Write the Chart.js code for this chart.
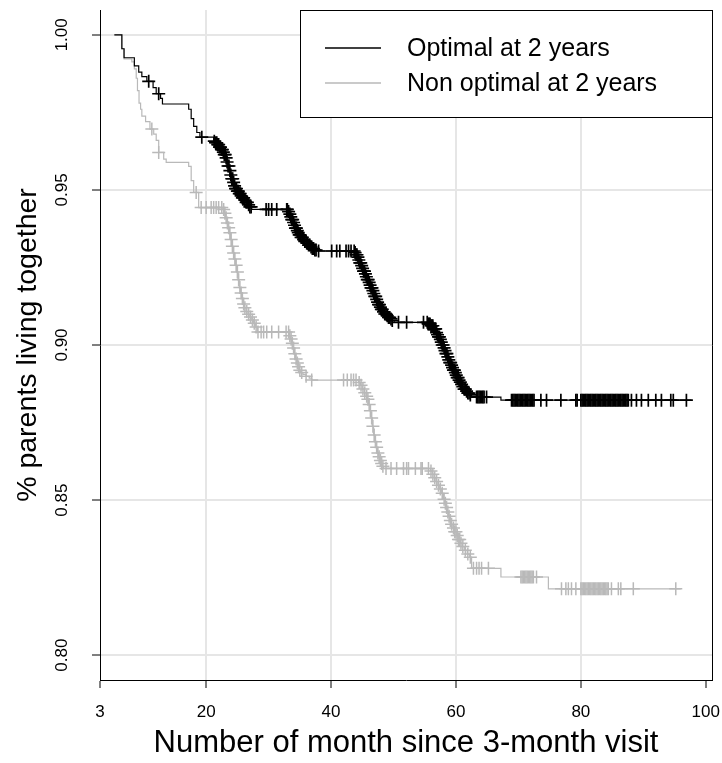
<!DOCTYPE html>
<html>
<head>
<meta charset="utf-8">
<script src="https://cdn.jsdelivr.net/npm/chart.js@4.4.1/dist/chart.umd.min.js"></script>
<style>
  html, body { margin: 0; padding: 0; background: #fff; }
  canvas { display: block; }
</style>
</head>
<body>
<canvas id="kmChart" width="722" height="763"></canvas>
<script>
// axis ticks
const xTicks = [3, 20, 40, 60, 80, 100];
const yTicks = [0.80, 0.85, 0.90, 0.95, 1.00];

// Optimal at 2 years: step times and survival after each step
const optTime = [5.3, 6.5, 6.85, 8.5, 9.2, 9.7, 10.5, 11.5, 12.0, 12.7, 13.0, 17.2, 17.6, 18.0, 18.5, 19.0, 21.2,
  21.5, 21.8, 22.1, 22.4, 22.7, 22.9, 23.1, 23.3, 23.5, 23.7, 23.9, 24.1, 24.3, 24.5, 24.7, 24.9, 25.2, 25.5, 25.8, 26.1, 26.4, 26.7, 27.0, 27.3,
  33.1, 33.3, 33.5, 33.7, 33.9, 34.1, 34.3, 34.5, 34.7, 34.9, 35.2, 35.5, 35.8, 36.1, 36.4, 36.7, 37.0, 37.4, 37.7,
  43.8, 44.0, 44.2, 44.4, 44.6, 44.8, 45.0, 45.2, 45.4, 45.6, 45.8, 46.0, 46.2, 46.4, 46.6, 46.8, 47.0, 47.2, 47.4, 47.6, 47.8, 48.0, 48.3, 48.6, 48.9, 49.2, 49.5, 49.8, 50.1,
  55.5, 56.0, 56.4, 56.8, 57.0, 57.2, 57.4, 57.6, 57.8, 58.0, 58.2, 58.4, 58.6, 58.8, 59.0, 59.2, 59.4, 59.6, 59.8, 60.0, 60.2, 60.4, 60.6, 60.8, 61.0, 61.3, 61.6, 61.9, 62.2, 62.5,
  67.2, 97.7];
const optSurv = [1.000, 0.9955, 0.9926, 0.9900, 0.9880, 0.9865, 0.9850, 0.9830, 0.9810, 0.9795, 0.9777, 0.9760, 0.9730, 0.9705, 0.9685, 0.9670, 0.9657,
  0.9652, 0.9646, 0.9638, 0.9630, 0.9622, 0.9614, 0.9603, 0.9590, 0.9577, 0.9562, 0.9548, 0.9536, 0.9524, 0.9513, 0.9504, 0.9496, 0.9488, 0.9481, 0.9474, 0.9467, 0.9460, 0.9452, 0.9445, 0.9437,
  0.9430, 0.9422, 0.9413, 0.9404, 0.9395, 0.9386, 0.9377, 0.9369, 0.9362, 0.9355, 0.9347, 0.9340, 0.9334, 0.9328, 0.9322, 0.9316, 0.9311, 0.9306, 0.9303,
  0.9298, 0.9291, 0.9283, 0.9274, 0.9265, 0.9256, 0.9247, 0.9238, 0.9229, 0.9220, 0.9211, 0.9202, 0.9193, 0.9184, 0.9175, 0.9166, 0.9157, 0.9147, 0.9138, 0.9130, 0.9122, 0.9115, 0.9107, 0.9100, 0.9094, 0.9089, 0.9084, 0.9079, 0.9073,
  0.9068, 0.9062, 0.9052, 0.9040, 0.9033, 0.9026, 0.9018, 0.9009, 0.9000, 0.8991, 0.8982, 0.8972, 0.8962, 0.8952, 0.8943, 0.8935, 0.8927, 0.8919, 0.8911, 0.8903, 0.8895, 0.8887, 0.8880, 0.8873, 0.8866, 0.8858, 0.8851, 0.8845, 0.8839, 0.8832,
  0.8822, 0.8822];
// censoring times (the + marks)
const optCensor = [10.8, 12.4, 19.3,
  21.3, 21.5, 21.7, 21.85, 22.0, 22.15, 22.3, 22.45, 22.6, 22.75, 22.9, 23.05, 23.2, 23.35, 23.5, 23.65, 23.8, 23.95,
  24.1, 24.25, 24.4, 24.55, 24.7, 24.85, 25.0, 25.15, 25.3, 25.45, 25.6, 25.8, 26.0, 26.2, 26.4, 26.6, 26.8, 27.0, 27.2,
  29.6, 30.0, 30.5, 31.3, 32.9,
  33.0, 33.2, 33.4, 33.55, 33.7, 33.85, 34.0, 34.15, 34.3, 34.45, 34.6, 34.75, 34.9, 35.05, 35.2, 35.4, 35.6, 35.8,
  36.0, 36.2, 36.4, 36.6, 36.8, 37.0, 37.2, 37.4, 37.6,
  38.0, 40.1, 40.9, 41.4, 42.4, 42.8, 43.2,
  43.7, 43.85, 44.0, 44.15, 44.3, 44.45, 44.6, 44.75, 44.9, 45.05, 45.2, 45.35, 45.5, 45.65, 45.8, 45.95, 46.1, 46.25,
  46.4, 46.55, 46.7, 46.85, 47.0, 47.15, 47.3, 47.45, 47.6, 47.75, 47.9, 48.05, 48.2, 48.4, 48.6, 48.8, 49.0, 49.2,
  49.4, 49.6, 49.8,
  50.8, 52.1, 54.8,
  55.4, 55.55, 55.7, 55.85, 56.0, 56.15, 56.3, 56.45, 56.6, 56.75, 56.9, 57.05, 57.2, 57.35, 57.5, 57.65, 57.8, 57.95,
  58.1, 58.25, 58.4, 58.55, 58.7, 58.85, 59.0, 59.15, 59.3, 59.45, 59.6, 59.75, 59.9, 60.05, 60.2, 60.35, 60.5, 60.7,
  60.9, 61.1, 61.3, 61.5, 61.7, 61.9, 62.1, 62.3,
  63.3, 63.5, 63.7, 63.9, 64.1, 64.3, 64.5, 64.9,
  68.9, 69.1, 69.3, 69.5, 69.7, 69.9, 70.1, 70.3, 70.5, 70.7, 70.9, 71.1, 71.3, 71.5, 71.7, 71.9, 72.1, 72.3, 72.5,
  73.6, 74.5, 76.8, 79.2, 79.4,
  80.0, 80.2, 80.4, 80.6, 80.8, 81.0, 81.2, 81.4, 81.6, 81.8, 82.0, 82.2, 82.4, 82.6, 82.8, 83.0, 83.2, 83.4, 83.6,
  83.8, 84.0, 84.2, 84.4, 84.6, 84.8, 85.0, 85.2, 85.4, 85.6, 85.8, 86.0, 86.2, 86.4, 86.6, 86.8, 87.0, 87.2, 87.4, 87.6,
  88.1, 88.9, 89.7, 90.8, 92.0, 92.9, 94.4, 94.8, 96.9];

// Non optimal at 2 years
const nonTime = [5.3, 6.5, 6.85, 8.1, 8.5, 8.8, 9.0, 9.25, 9.5, 9.7, 10.3, 11.0, 11.6, 12.0, 12.4, 13.2, 13.6, 17.2, 17.6, 18.0, 18.8,
  22.7, 22.9, 23.1, 23.3, 23.5, 23.7, 23.9, 24.1, 24.3, 24.5, 24.7, 24.9, 25.1, 25.3, 25.5, 25.7, 25.9, 26.1, 26.4, 26.7, 27.0, 27.3, 27.6, 27.9, 28.2,
  33.3, 33.5, 33.7, 33.9, 34.1, 34.3, 34.5, 34.7, 34.9, 35.1, 35.5, 36.0, 36.5, 36.9,
  44.4, 44.7, 45.0, 45.3, 45.6, 45.8, 46.0, 46.2, 46.4, 46.6, 46.8, 47.0, 47.2, 47.4, 47.6, 47.8, 48.0, 48.2, 48.4,
  55.9, 56.2, 56.5, 56.8, 57.1, 57.4, 57.7, 58.0, 58.2, 58.4, 58.6, 58.8, 59.0, 59.2, 59.5, 59.8, 60.1, 60.4, 60.7, 61.0, 61.4, 61.8, 62.2, 62.5,
  67.2, 74.8, 96.0];
const nonSurv = [1.000, 0.9955, 0.9922, 0.9913, 0.9890, 0.9860, 0.9820, 0.9780, 0.9760, 0.9738, 0.9720, 0.9696, 0.9680, 0.9660, 0.9621, 0.9599, 0.9589, 0.9576, 0.9530, 0.9492, 0.9443,
  0.9437, 0.9425, 0.9410, 0.9393, 0.9378, 0.9362, 0.9340, 0.9318, 0.9297, 0.9277, 0.9257, 0.9235, 0.9210, 0.9185, 0.9168, 0.9150, 0.9132, 0.9120, 0.9108, 0.9099, 0.9090, 0.9081, 0.9070, 0.9058, 0.9042,
  0.9030, 0.9019, 0.9006, 0.8990, 0.8972, 0.8955, 0.8942, 0.8930, 0.8919, 0.8911, 0.8905, 0.8899, 0.8893, 0.8887,
  0.8879, 0.8870, 0.8858, 0.8846, 0.8835, 0.8825, 0.8808, 0.8788, 0.8765, 0.8738, 0.8710, 0.8688, 0.8670, 0.8652, 0.8640, 0.8628, 0.8618, 0.8609, 0.8602,
  0.8594, 0.8583, 0.8572, 0.8560, 0.8548, 0.8536, 0.8522, 0.8503, 0.8490, 0.8476, 0.8462, 0.8448, 0.8434, 0.8422, 0.8410, 0.8398, 0.8386, 0.8373, 0.8361, 0.8350, 0.8338, 0.8326, 0.8316, 0.8280,
  0.8252, 0.8214, 0.8214];
const nonCensor = [11.3, 12.4, 18.4, 19.2, 20.0, 20.8, 21.2, 21.6, 22.0, 22.5,
  22.8, 23.0, 23.2, 23.4, 23.6, 23.8, 24.0, 24.2, 24.4, 24.6, 24.8, 25.0, 25.2, 25.4, 25.6, 25.8, 26.0, 26.2, 26.5, 26.8, 27.1, 27.4, 27.7, 28.0,
  28.3, 28.8, 29.2, 29.7, 30.5, 31.6, 32.8, 33.2,
  33.4, 33.6, 33.8, 34.0, 34.2, 34.4, 34.6, 34.8, 35.0, 35.3, 36.0, 36.9,
  42.0, 42.6, 43.2, 43.6, 44.0,
  44.5, 44.8, 45.1, 45.4, 45.7, 45.9, 46.1, 46.3, 46.5, 46.7, 46.9, 47.1, 47.3, 47.5, 47.7, 47.9, 48.1, 48.3,
  48.8, 49.6, 50.5, 51.6, 52.1, 52.4, 53.5, 54.4, 54.6, 55.6,
  56.0, 56.3, 56.6, 56.9, 57.2, 57.5, 57.8, 58.1, 58.3, 58.5, 58.7, 58.9, 59.1, 59.3, 59.6, 59.8, 60.0, 60.2, 60.4, 60.6, 60.8,
  61.1, 61.5, 61.9, 62.3,
  62.8, 63.3, 63.7, 64.1, 65.2,
  70.4, 70.6, 70.8, 71.0, 71.2, 71.4, 71.6, 71.8, 72.0, 72.2, 72.4, 72.9,
  76.9, 77.6, 78.0, 78.5, 79.2,
  80.0, 80.2, 80.4, 80.6, 80.8, 81.0, 81.2, 81.4, 81.6, 81.8, 82.0, 82.2, 82.4, 82.6, 82.8, 83.0, 83.2, 83.4, 83.6,
  83.8, 84.0, 84.2, 84.4,
  84.9, 86.0, 86.4, 88.4, 95.2];

const optColor = '#000000';
const nonColor = '#b9b9b9';
const gridColor = '#e6e6e6';

// survival value of a step curve at time t
function survAt(times, surv, t) {
    let s = surv[0];
    for (let i = 0; i < times.length; i++) {
        if (times[i] <= t) s = surv[i];
    }
    return s;
}

function stepPoints(times, surv) {
    return times.map((t, i) => ({ x: t, y: surv[i] }));
}

function censorPoints(times, surv, censor) {
    return censor.map(t => ({ x: t, y: survAt(times, surv, t) }));
}

// draws the right border and the legend box
const framePlugin = {
    id: 'frame',
    afterDatasetsDraw(chart) {
        const { ctx, chartArea: a } = chart;
        ctx.save();
        ctx.strokeStyle = '#000';
        ctx.lineWidth = 1;
        ctx.beginPath();
        ctx.moveTo(a.right + 0.5, a.top);
        ctx.lineTo(a.right + 0.5, a.bottom + 0.5);
        ctx.stroke();

        // legend
        const boxLeft = 300.5, boxTop = a.top + 0.5;
        const boxW = a.right - boxLeft + 0.5, boxH = 107;
        ctx.fillStyle = '#fff';
        ctx.fillRect(boxLeft, boxTop, boxW, boxH);
        ctx.strokeRect(boxLeft, boxTop, boxW, boxH);

        const entries = [chart.data.datasets[0], chart.data.datasets[2]];
        ctx.font = '25px "Liberation Sans", Arial, sans-serif';
        ctx.textBaseline = 'middle';
        ctx.textAlign = 'left';
        entries.forEach((ds, i) => {
            const y = boxTop + 37.5 + i * 35;
            ctx.strokeStyle = ds.borderColor;
            ctx.lineWidth = 1.6;
            ctx.beginPath();
            ctx.moveTo(325, y);
            ctx.lineTo(381, y);
            ctx.stroke();
            ctx.fillStyle = '#000';
            ctx.fillText(ds.label, 407, y + 1);
        });
        ctx.restore();
    }
};

const ctx = document.getElementById('kmChart').getContext('2d');
new Chart(ctx, {
    data: {
        datasets: [
            {
                type: 'line',
                label: 'Optimal at 2 years',
                data: stepPoints(optTime, optSurv),
                stepped: 'before',
                borderColor: optColor,
                borderWidth: 1.2,
                pointRadius: 0,
                fill: false,
                order: 2
            },
            {
                type: 'scatter',
                label: 'Optimal censored',
                data: censorPoints(optTime, optSurv, optCensor),
                pointStyle: 'cross',
                pointRadius: 6.5,
                borderColor: optColor,
                borderWidth: 1.7,
                order: 1
            },
            {
                type: 'line',
                label: 'Non optimal at 2 years',
                data: stepPoints(nonTime, nonSurv),
                stepped: 'before',
                borderColor: nonColor,
                borderWidth: 1.2,
                pointRadius: 0,
                fill: false,
                order: 4
            },
            {
                type: 'scatter',
                label: 'Non optimal censored',
                data: censorPoints(nonTime, nonSurv, nonCensor),
                pointStyle: 'cross',
                pointRadius: 6.5,
                borderColor: nonColor,
                borderWidth: 1.5,
                order: 3
            }
        ]
    },
    options: {
        responsive: false,
        devicePixelRatio: 1,
        animation: false,
        layout: { padding: { top: 10, right: 10, left: 0, bottom: 0 } },
        plugins: {
            legend: { display: false },
            tooltip: { enabled: false }
        },
        scales: {
            x: {
                type: 'linear',
                min: 3,
                max: 101,
                afterBuildTicks: scale => { scale.ticks = xTicks.map(v => ({ value: v })); },
                afterFit: scale => {
                    scale.height = 83;
                    scale.paddingLeft = 0;
                    scale.paddingRight = 0;
                },
                grid: {
                    color: c => (c.tick && (c.tick.value === 3 || c.tick.value === 100)) ? 'rgba(0,0,0,0)' : gridColor,
                    lineWidth: 2,
                    tickColor: '#000',
                    tickWidth: 1,
                    tickLength: 8
                },
                border: { display: true, color: '#000', width: 1 },
                ticks: {
                    autoSkip: false,
                    maxRotation: 0,
                    padding: 14,
                    color: '#000',
                    font: { family: '"Liberation Sans", Arial, sans-serif', size: 17 }
                },
                title: {
                    display: true,
                    text: 'Number of month since 3-month visit',
                    color: '#000',
                    font: { family: '"Liberation Sans", Arial, sans-serif', size: 31 },
                    padding: { top: 0, bottom: 1 }
                }
            },
            y: {
                type: 'linear',
                min: 0.792,
                max: 1.008,
                afterBuildTicks: scale => { scale.ticks = yTicks.map(v => ({ value: v })); },
                afterFit: scale => {
                    scale.width = 100;
                    scale.paddingTop = 0;
                    scale.paddingBottom = 0;
                },
                grid: {
                    color: gridColor,
                    lineWidth: 2,
                    tickColor: '#000',
                    tickWidth: 1,
                    tickLength: 8
                },
                border: { display: true, color: '#000', width: 1 },
                ticks: {
                    minRotation: 90,
                    maxRotation: 90,
                    crossAlign: 'center',
                    padding: 13,
                    color: '#000',
                    font: { family: '"Liberation Sans", Arial, sans-serif', size: 17 },
                    callback: v => v.toFixed(2)
                },
                title: {
                    display: true,
                    text: '% parents living together',
                    color: '#000',
                    font: { family: '"Liberation Sans", Arial, sans-serif', size: 28.5 },
                    padding: { top: 11, bottom: 0 }
                }
            }
        }
    },
    plugins: [framePlugin]
});
</script>
</body>
</html>
